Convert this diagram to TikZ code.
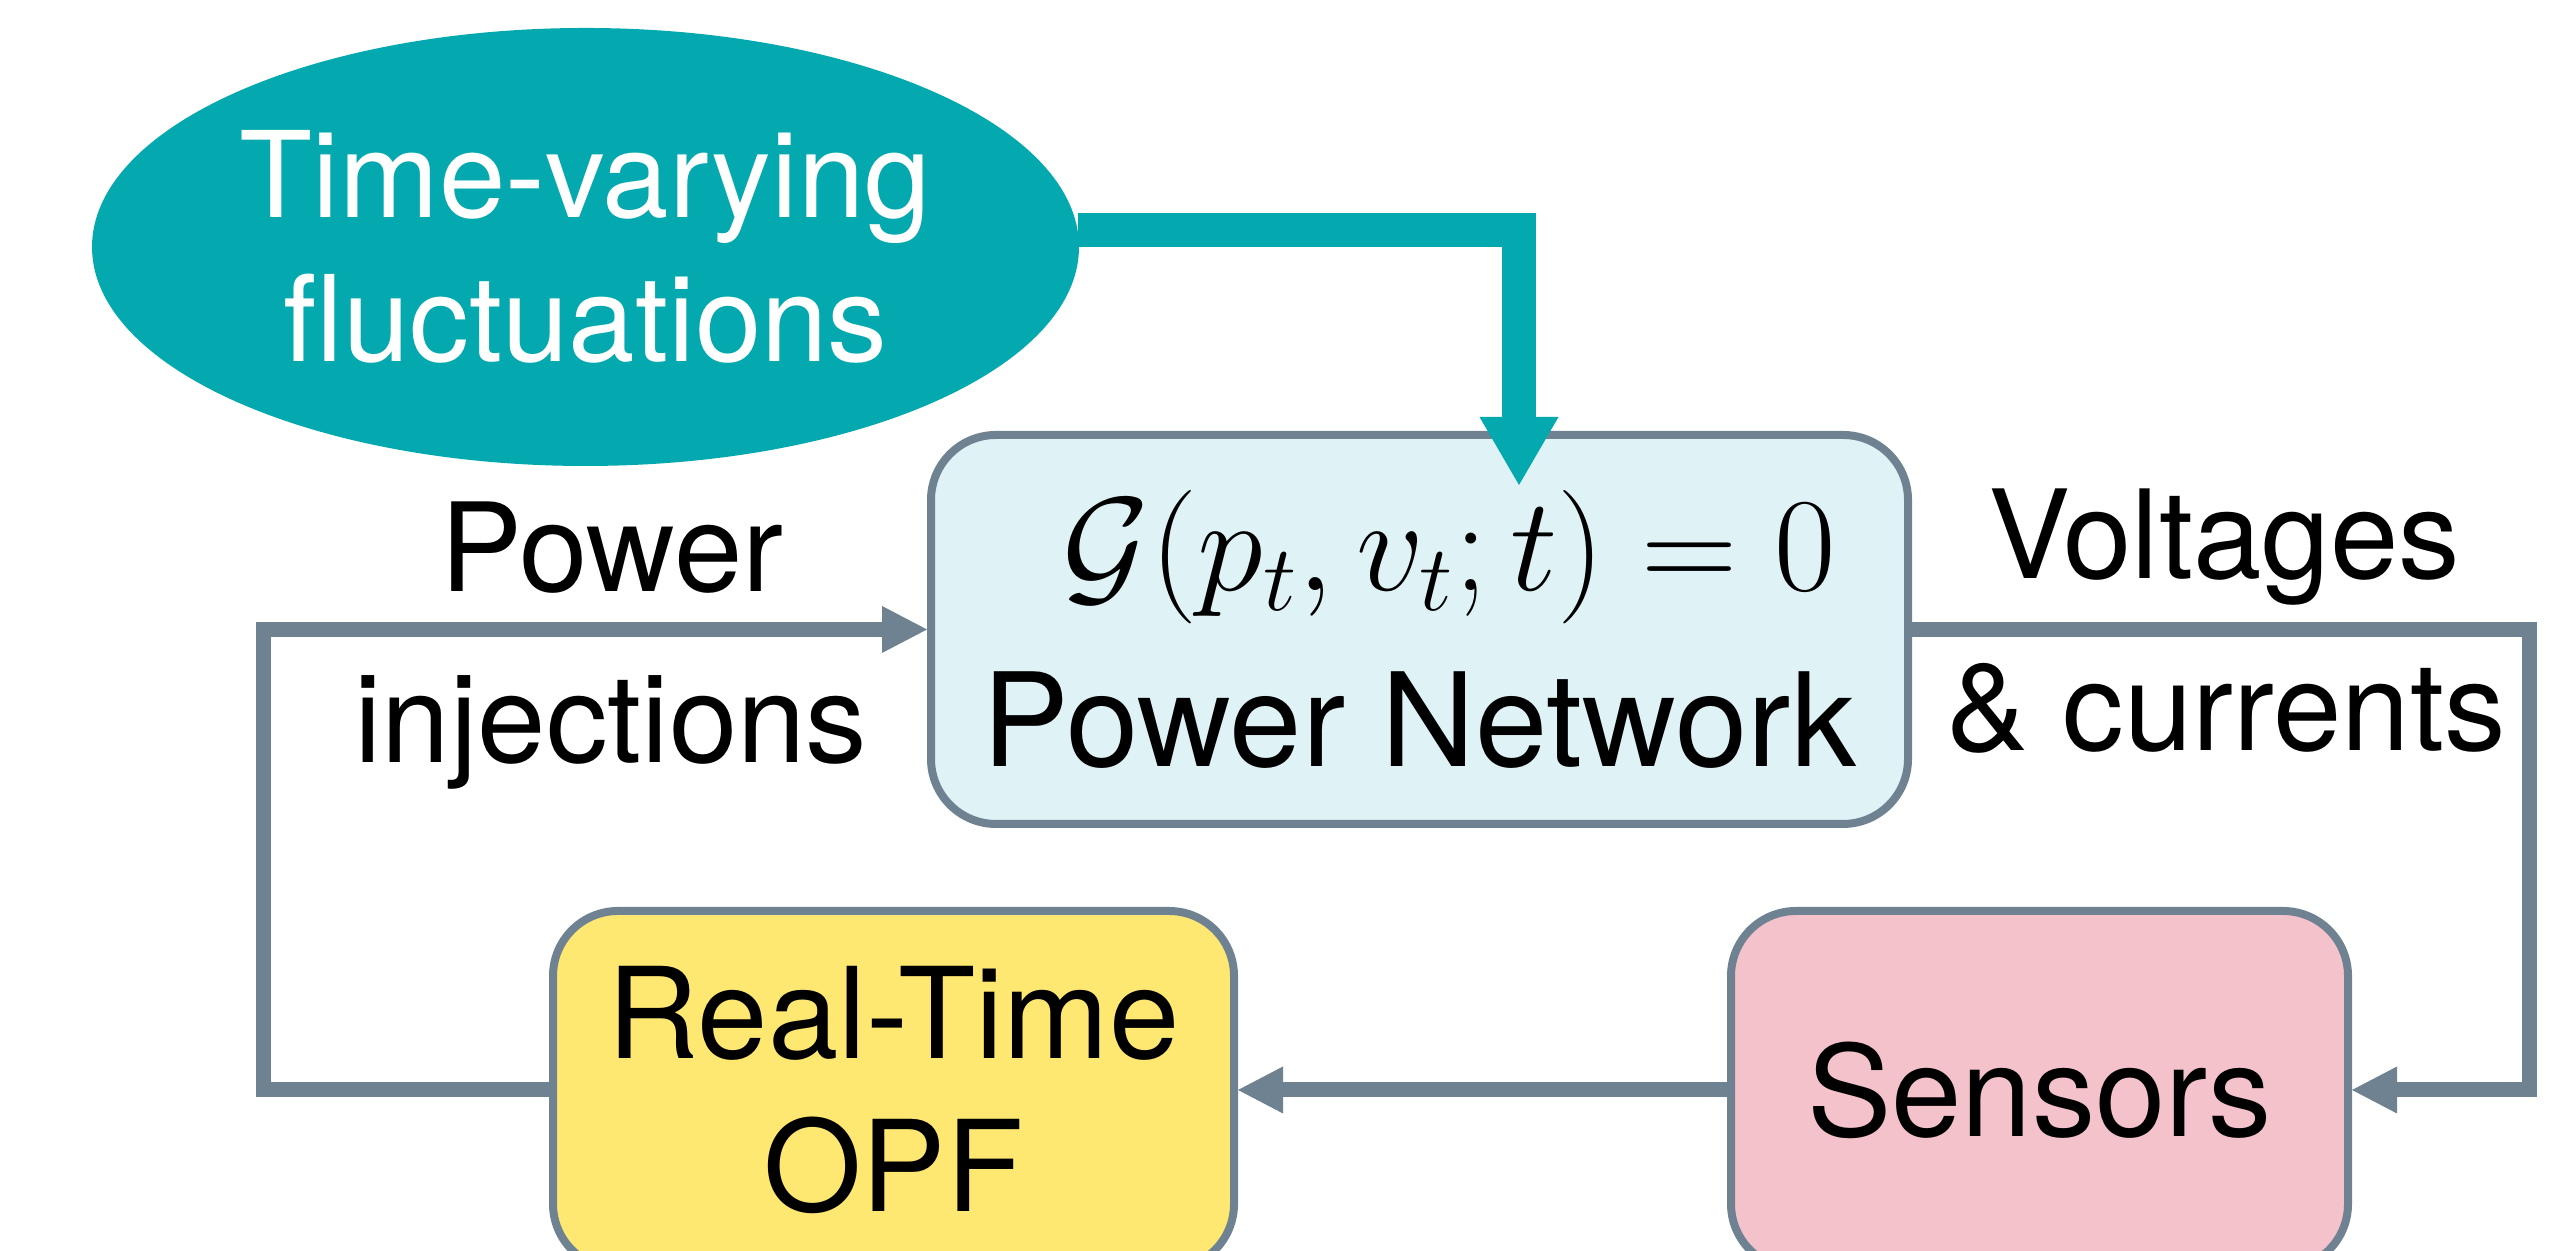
\RequirePackage{fix-cm}
\documentclass[tikz,border=0pt]{standalone}
\usepackage[no-math]{fontspec}
\setmainfont{TeX Gyre Heros}
\usepackage{tikz}
\usetikzlibrary{arrows.meta, positioning, shapes.geometric}

\definecolor{tealfill}{HTML}{03A9AE}
\definecolor{wiregray}{HTML}{6F8291}
\definecolor{netfill}{HTML}{DFF3F6}
\definecolor{opffill}{HTML}{FEE872}
\definecolor{sensfill}{HTML}{F4C2CB}

\begin{document}
\begin{tikzpicture}[
  block/.style={draw=wiregray, line width=0.08cm, rounded corners=0.65cm, fill=#1, align=center, inner sep=0pt, font=\fontsize{36}{43.5}\selectfont},
  source/.style={ellipse, fill=tealfill, text=white, align=center, inner sep=0pt, minimum width=9.87cm, minimum height=4.38cm, font=\fontsize{34}{41}\selectfont},
  wire/.style={draw=wiregray, line width=0.15cm, -{Triangle[length=0.45cm, width=0.47cm, line width=0pt]}},
  flow/.style={draw=tealfill, line width=0.34cm, -{Triangle[length=0.68cm, width=0.79cm, line width=0pt]}},
  lbl/.style={anchor=base, font=\fontsize{35}{42}\selectfont}
]
\useasboundingbox (0,0) rectangle (25.72,12.51);
\clip (0,0) rectangle (25.72,12.51);

% Blocks
\node[source] (fluct) at (5.855, 10.04) {Time-varying\\fluctuations};
\node[block=netfill, minimum width=9.77cm, minimum height=3.89cm, font=\fontsize{37}{44}\selectfont] (net) at (14.195, 6.215) {\kern0.6cm{\fontsize{38}{38}\selectfont$\mathcal{G}(p_t, v_t; t) = 0$}\\[6pt]Power Network};
\node[block=opffill, minimum width=6.81cm, minimum height=3.58cm] (opf) at (8.935, 1.61) {Real-Time\\OPF};
\node[block=sensfill, minimum width=6.17cm, minimum height=3.58cm] (sensors) at (20.395, 1.61) {Sensors};

% Signal labels
\node[lbl] (pow) at (6.12, 6.59) {Power};
\node[lbl] (inj) at (6.11, 4.88) {injections};
\node[lbl] (volt) at (22.24, 6.72) {Voltages};
\node[lbl] (curr) at (22.26, 5.00) {\& currents};

% Turning points
\coordinate (lturn) at (2.63, 1.61);
\coordinate (rturn) at (25.29, 1.61);
\coordinate (drop) at (15.19, 7.66);

% Loop
\draw[wire] (opf.west) -- (lturn) |- (net.west);
\draw[wire] (net.east) -| (rturn) -- (sensors.east);
\draw[wire] (sensors.west) -- (opf.east);
\draw[flow] (fluct.2) -| (drop);

\end{tikzpicture}
\end{document}
